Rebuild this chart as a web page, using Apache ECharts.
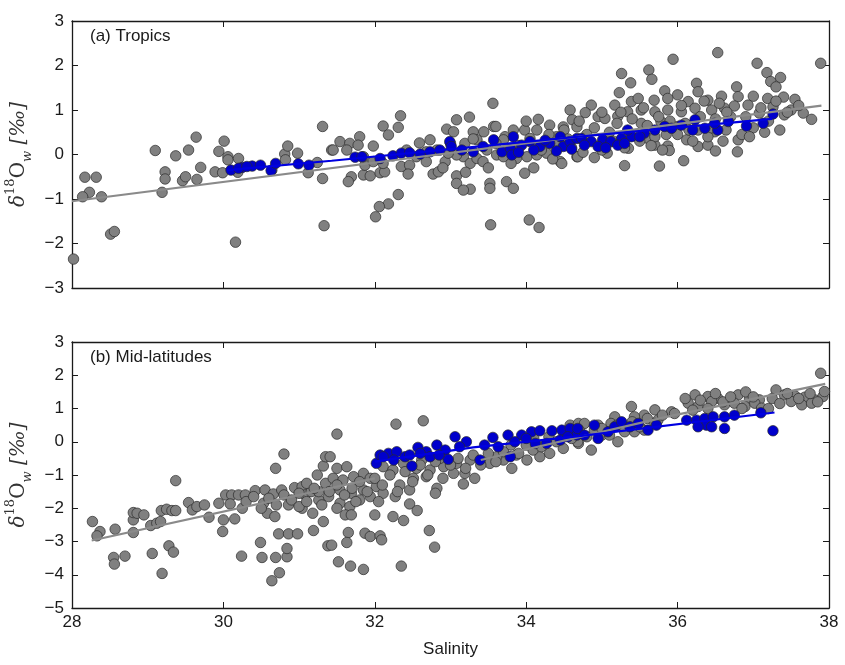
<!DOCTYPE html>
<html>
<head>
<meta charset="utf-8">
<script src="https://cdn.jsdelivr.net/npm/echarts@6/dist/echarts.min.js"></script>
<style>
  html, body { margin: 0; padding: 0; background: #fff; }
  #chart { width: 845px; height: 665px; }
</style>
</head>
<body>
<div id="chart"></div>
<script>
// Salinity axis shared by both panels
const salinityTicks = [28, 30, 32, 34, 36, 38];
const tropicsYTicks = [-3, -2, -1, 0, 1, 2, 3];
const midYTicks = [-5, -4, -3, -2, -1, 0, 1, 2, 3];

// (a) Tropics: all samples [salinity, d18O]
const tropicsAll = [
  [28.02,-2.35],[28.17,-0.51],[28.32,-0.51],[28.23,-0.85],[28.14,-0.95],[28.39,-0.95],[28.51,-1.79],[28.56,-1.73],
  [29.10,0.09],[29.37,-0.03],[29.54,0.10],[29.64,0.39],[29.23,-0.39],[29.23,-0.55],[29.19,-0.85],[29.46,-0.59],
  [29.50,-0.50],[29.65,-0.56],[29.70,-0.29],[29.94,0.07],[30.01,0.30],[29.89,-0.39],[29.99,-0.41],[30.06,-0.05],
  [30.06,-0.12],[30.20,-0.09],[30.19,-0.40],[30.16,-1.97],[30.81,0.01],[30.85,0.19],[30.98,0.03],[30.82,-0.12],
  [30.64,-0.35],[31.12,-0.41],[31.24,-0.18],[31.31,-0.54],[31.31,0.63],[31.33,-1.60],[31.43,0.10],
  [31.45,0.10],[31.54,0.29],[31.67,0.25],[31.80,0.40],[31.78,0.21],[31.63,0.10],[31.98,0.19],[32.11,0.64],
  [32.18,0.44],[32.31,0.61],[32.34,0.87],[31.69,-0.50],[31.65,-0.61],[31.85,-0.46],[31.94,-0.48],[32.07,-0.41],
  [32.13,-0.39],[31.87,-0.24],[32.31,-0.90],[32.18,-1.11],[32.06,-1.17],[32.01,-1.40],[32.35,-0.27],[32.46,-0.24],
  [32.44,-0.44],[32.59,0.26],[32.73,0.33],[32.77,-0.44],[32.84,-0.39],[32.68,-0.16],[32.95,0.57],[33.08,0.78],
  [33.25,0.84],[33.04,0.51],[32.93,-0.16],[33.08,-0.48],[33.08,-0.65],[33.26,-0.78],[33.17,-0.80],[33.30,0.51],
  [33.44,0.51],[33.57,0.63],[33.56,1.15],[33.60,0.63],[33.72,0.40],[33.83,0.55],[33.98,0.55],[34.14,0.55],
  [34.16,0.79],[34.31,0.66],[34.49,0.62],[34.58,1.00],[34.61,0.78],[34.67,0.62],[33.52,-0.65],[33.52,-0.76],
  [33.74,-0.61],[33.83,-0.76],[33.98,-0.42],[33.53,-1.58],[34.04,-1.47],[34.17,-1.64],[33.17,-0.05],[33.26,-0.20],
  [33.35,-0.09],[33.43,-0.16],[33.08,-0.01],[32.97,0.03],[33.48,0.10],[33.61,-0.01],[33.70,-0.05],[33.87,-0.09],
  [34.01,-0.05],[34.14,-0.01],[34.27,0.03],[34.45,-0.16],[34.47,-0.20],[34.67,-0.05],[32.55,-0.05],[32.42,0.10],
  [32.68,0.06],[32.82,0.10],[33.19,0.25],[33.35,0.33],[33.70,0.33],[34.05,0.36],[34.40,0.40],[31.85,-0.05],
  [31.98,-0.16],[32.11,-0.20],
  [36.53,2.29],[35.94,2.14],[37.05,2.05],[37.89,2.05],[35.26,1.82],[35.62,1.90],[35.66,1.69],[35.38,1.61],
  [37.18,1.84],[37.23,1.64],[37.36,1.73],[37.30,1.52],[36.25,1.60],[36.27,1.41],[36.78,1.52],[35.23,1.39],
  [35.83,1.43],[36.00,1.34],[34.86,1.11],[34.78,0.94],[35.17,1.11],[35.39,1.19],[35.48,1.26],[35.69,1.22],
  [35.87,1.26],[36.14,1.19],[36.40,1.22],[36.58,1.31],[36.80,1.30],[37.00,1.31],[37.19,1.26],[37.26,1.07],
  [37.40,1.29],[37.55,1.24],[37.41,0.89],[37.50,1.00],[37.66,0.93],[37.77,0.79],[34.95,0.85],[35.04,0.81],
  [35.21,0.86],[35.34,0.96],[35.52,1.00],[35.70,0.96],[35.87,1.00],[36.05,0.96],[36.23,1.04],[36.45,1.00],
  [36.62,1.04],[36.75,1.09],[36.93,1.11],[37.08,0.93],[35.52,0.70],[35.78,0.74],[36.00,0.63],[36.27,0.55],
  [36.49,0.51],[36.64,0.55],[34.68,-0.05],[34.90,-0.07],[35.07,0.03],[35.30,-0.25],[35.35,0.14],[35.76,-0.26],
  [35.87,0.19],[35.89,0.09],[36.08,-0.14],[36.12,0.33],[36.27,0.18],[36.40,0.21],[36.50,0.08],[36.80,0.33],
  [36.79,0.06],[35.70,0.21],[35.61,0.36],
  [34.20,0.10],[34.30,0.45],[34.40,0.20],[34.50,0.55],[34.60,0.15],[34.70,0.75],[34.80,0.45],[34.90,0.60],
  [35.00,0.10],[35.00,0.95],[35.10,0.50],[35.20,0.70],[35.30,0.15],[35.40,0.80],[35.50,0.30],[35.55,1.05],
  [35.60,0.65],[35.70,0.40],[35.75,0.85],[35.80,0.10],[35.90,0.75],[36.00,0.45],[36.05,1.10],[36.10,0.70],
  [36.20,0.30],[36.30,0.85],[36.35,1.20],[36.40,0.40],[36.50,0.80],[36.55,1.15],[36.60,0.30],[36.70,0.85],
  [36.85,0.45],[36.90,0.85],[37.00,0.60],[37.10,1.05],[37.20,0.75],[37.30,1.20],[37.35,0.55],[37.45,0.95],
  [37.60,1.10],[33.90,0.20],[33.80,-0.20],[33.60,0.25],[33.50,-0.30],[33.30,0.35],[33.20,-0.40],[33.00,0.25],
  [32.90,-0.30],[34.00,0.75],[34.10,-0.30],[34.35,-0.10],[34.55,0.35],[34.75,0.05],[35.15,0.30],[35.25,0.95],
  [35.45,0.45],[35.65,0.20],[35.85,0.45],[36.15,0.55],[36.45,0.60],[36.65,0.95],[36.95,0.40],[37.15,0.50]
];

// (a) Tropics: subset highlighted in blue
const tropicsSubset = [
  [30.10,-0.35],[30.25,-0.29],[30.38,-0.26],[30.49,-0.24],[30.63,-0.36],[30.69,-0.20],[30.99,-0.21],[31.13,-0.24],
  [30.20,-0.31],[30.31,-0.27],
  [31.74,-0.06],[31.83,-0.05],[32.24,-0.03],[32.35,0.03],[32.46,0.04],[32.60,0.01],[32.73,0.06],[32.86,0.10],
  [32.99,0.29],[33.01,0.18],[33.15,0.10],[33.30,0.06],[33.43,0.18],[33.57,0.33],[33.68,0.06],[33.79,0.14],
  [33.83,0.40],[33.81,-0.01],[33.94,0.21],[34.05,0.29],[34.18,0.18],[34.31,0.25],[34.45,0.40],[34.49,0.18],
  [34.58,0.29],[34.67,0.36],[32.07,-0.09],
  [34.73,0.36],[34.86,0.29],[35.01,0.33],[35.12,0.29],[35.26,0.36],[35.39,0.40],[35.34,0.55],[35.56,0.48],
  [35.70,0.55],[35.83,0.63],[35.92,0.59],[36.05,0.66],[36.20,0.55],[36.23,0.78],[36.36,0.59],[36.53,0.55],
  [36.49,0.70],[36.67,0.74],[36.91,0.64],[37.13,0.70],[37.26,0.91],[34.77,0.21],[34.95,0.18],[35.21,0.21],
  [35.50,0.40],[33.90,0.05],[34.10,0.10],[34.25,0.32],[34.40,0.08],[34.60,0.12],[35.05,0.15],[35.30,0.25]
];

// (a) Tropics: fitted lines
const tropicsAllFit = [[28.0,-1.05],[37.9,1.10]];
const tropicsSubsetFit = [[30.05,-0.35],[31.43,-0.14],[34.70,0.40],[37.25,0.80]];

// (b) Mid-latitudes: all samples [salinity, d18O]
const midAll = [
  [28.27,-2.40],[28.37,-2.70],[28.33,-2.83],[28.57,-2.63],[28.55,-3.48],[28.56,-3.68],[28.70,-3.44],[28.81,-2.73],
  [28.81,-2.35],[28.81,-2.13],[28.86,-2.15],[28.95,-2.20],[29.04,-2.52],[29.12,-2.45],[29.17,-2.40],[29.06,-3.36],
  [29.18,-2.07],[29.25,-2.03],[29.32,-2.07],[29.37,-2.07],[29.37,-1.17],[29.28,-3.13],[29.34,-3.32],[29.19,-3.96],
  [29.54,-1.83],[29.59,-2.05],[29.65,-1.95],[29.75,-1.90],[29.81,-2.27],[29.94,-1.85],[30.00,-2.35],[29.99,-2.70],
  [30.15,-2.32],[30.03,-1.60],[30.11,-1.60],[30.20,-1.60],[30.29,-1.60],[30.09,-1.87],[30.25,-2.00],[30.42,-1.47],
  [30.53,-1.85],[30.55,-1.45],[30.66,-1.57],[30.77,-1.45],[30.86,-1.90],[30.69,-0.80],[30.80,-0.37],[30.49,-3.03],
  [30.24,-3.44],[30.51,-3.48],[30.69,-3.48],[30.84,-3.46],[30.84,-3.21],[30.73,-2.77],[30.86,-2.77],[30.98,-2.77],
  [30.64,-4.18],[30.74,-3.94],[30.58,-2.15],[30.68,-2.25],[30.94,-1.38],[31.04,-1.35],[31.08,-1.60],[31.04,-2.00],
  [31.16,-1.50],[31.18,-2.15],[31.24,-1.00],[31.32,-0.73],[31.35,-0.45],[31.32,-2.40],[31.38,-3.13],[31.19,-2.67],
  [31.26,-1.75],[31.35,-1.25],[31.39,-1.65],[31.10,-1.25],[31.26,-1.50],
  [31.50,0.23],[32.28,0.53],[32.64,0.63],[31.41,-0.45],[31.50,-0.80],[31.63,-0.75],[31.45,-1.10],[31.58,-1.15],
  [31.72,-1.05],[31.85,-0.95],[31.94,-1.10],[31.54,-1.45],[31.69,-1.55],[31.85,-1.45],[32.02,-1.35],[31.54,-1.85],
  [31.67,-1.95],[31.80,-1.75],[31.94,-1.65],[31.61,-2.20],[31.69,-2.20],[32.00,-2.20],[32.11,-1.55],[32.27,-1.65],
  [32.24,-2.25],[32.38,-2.37],[32.46,-1.87],[32.56,-2.07],[31.65,-2.73],[31.63,-3.03],[31.87,-2.75],[31.94,-2.85],
  [32.07,-2.83],[32.09,-2.95],[31.43,-3.11],[31.52,-3.61],[31.68,-3.74],[31.85,-3.84],[32.35,-3.74],[32.72,-2.67],
  [32.79,-3.17],[32.11,-0.75],[32.24,-0.85],[32.38,-0.65],[32.55,-0.80],[32.73,-0.85],[32.91,-0.75],[33.04,-0.95],
  [33.17,-1.27],[33.19,-0.95],[33.32,-1.10],[32.51,-1.10],[32.68,-1.05],[32.33,-1.30],[32.46,-1.45],[32.82,-1.40],
  [32.80,-1.55],[32.62,-0.55],[32.86,-0.50],[33.08,-0.65],[33.26,-0.55],[33.52,-0.65],[33.70,-0.55],[33.81,-0.80],
  [34.01,-0.55],[34.18,-0.45],[34.31,-0.35],[34.49,-0.20],[34.69,-0.05],[33.61,-0.45],[33.87,-0.40],[34.09,-0.25],
  [34.58,0.50],[34.69,0.55],
  [37.89,2.06],[37.30,1.56],[37.41,1.41],[37.55,1.38],[37.68,1.34],[37.81,1.26],[37.92,1.36],[37.64,1.11],
  [37.77,1.16],[37.94,1.51],[37.50,1.21],[36.23,1.41],[36.40,1.36],[36.53,1.31],[36.80,1.41],[36.95,1.31],
  [37.08,1.26],[36.14,1.16],[36.27,1.06],[36.45,1.21],[36.62,1.11],[36.75,1.16],[36.89,1.06],[37.02,1.16],
  [37.11,1.01],[35.39,1.06],[35.70,0.96],[35.92,0.90],[35.96,0.85],[35.56,0.80],[35.43,0.75],[35.17,0.75],
  [34.95,0.50],[34.77,0.55],[35.12,0.55],[35.30,0.45],[35.56,0.35],[35.74,0.65],[35.21,0.00],[34.86,-0.25],
  [34.68,0.00],[35.00,0.20],[35.43,0.30],
  [30.30,-1.80],[30.40,-1.65],[30.50,-2.00],[30.60,-1.70],[30.70,-1.90],[30.80,-1.60],[30.90,-1.75],[31.00,-1.55],
  [31.00,-1.95],[31.10,-1.80],[31.20,-1.40],[31.30,-1.90],[31.40,-1.50],[31.50,-1.30],[31.50,-2.00],[31.60,-1.60],
  [31.70,-1.40],[31.75,-1.80],[31.80,-1.20],[31.90,-1.50],[32.00,-1.10],[32.05,-1.80],[32.10,-1.30],[32.20,-1.00],
  [32.30,-1.50],[32.40,-0.90],[32.50,-1.20],[32.60,-0.70],[32.70,-1.00],[32.80,-0.60],[32.90,-1.10],[33.00,-0.70],
  [33.10,-0.50],[33.20,-0.80],[33.30,-0.40],[33.40,-0.70],[33.50,-0.35],[33.60,-0.60],[33.70,-0.30],[33.80,-0.10],
  [33.90,-0.35],[34.00,-0.10],[34.10,0.10],[34.20,-0.15],[34.30,0.15],[34.40,0.00],[34.50,0.25],[34.60,0.10],
  [34.70,0.35],[34.80,0.15],[34.90,0.35],[35.00,0.40],[35.10,0.20],[35.20,0.50],[35.30,0.30],[35.40,0.60],
  [35.50,0.45],[35.60,0.70],[35.70,0.55],[35.80,0.80],[36.10,1.30],[36.20,0.95],[36.30,1.25],[36.40,1.00],
  [36.50,1.45],[36.60,1.20],[36.70,1.35],[36.85,1.00],[36.90,1.50],[37.00,1.35],[37.20,1.00],[37.25,1.30],
  [37.35,1.15],[37.45,1.45],[37.60,1.30],[37.75,1.45],[37.85,1.20]
];

// (b) Mid-latitudes: subset highlighted in blue
const midSubset = [
  [32.02,-0.65],[32.07,-0.40],[32.18,-0.35],[32.29,-0.30],[32.40,-0.45],[32.49,-0.73],[32.57,-0.17],[32.68,-0.30],
  [32.82,-0.10],[32.93,-0.25],[32.97,-0.53],[33.06,0.15],[33.21,0.00],[33.12,-0.15],[33.39,-0.55],[33.56,0.13],
  [33.76,0.20],[33.63,-0.15],[33.79,-0.45],[33.94,0.20],[34.07,0.30],[34.18,0.33],[34.12,-0.05],[34.34,0.33],
  [34.47,0.35],[34.58,0.40],[34.67,0.20],[34.27,-0.05],[34.45,0.05],[32.11,-0.45],[32.73,-0.45],[32.46,-0.40],
  [32.25,-0.55],[32.60,-0.35],[32.85,-0.40],[33.45,-0.10],[33.85,0.00],[34.00,0.10],[34.55,0.15],
  [34.68,0.40],[34.77,0.20],[34.90,0.50],[34.95,0.10],[35.08,0.30],[35.17,0.45],[35.26,0.60],[35.37,0.45],
  [35.48,0.55],[35.61,0.35],[35.72,0.50],[36.12,0.65],[36.25,0.65],[36.36,0.70],[36.47,0.75],[36.38,0.50],
  [36.45,0.45],[36.27,0.45],[36.62,0.40],[36.62,0.75],[36.75,0.80],[37.10,0.87],[37.26,0.33]
];

// (b) Mid-latitudes: fitted lines (null breaks the gray fit into pieces)
const midAllFit = [[28.26,-2.97],[32.0,-1.10],null,[33.40,-0.55],[35.85,0.75],[37.95,1.74]];
const midSubsetFit = [[32.0,-0.60],[33.30,-0.17],[34.70,0.17],[37.28,0.88]];

const FONT = '"Liberation Sans", Arial, sans-serif';
const INK = '#1a1a1a';
const minus = v => String(v).replace('-', '\u2212');

// δ18Ow [‰] written with rich-text super/subscripts
const yName = '{d|δ}{s|18}{o|O}{w|w}{n| [‰]}';
const SERIF = '"DejaVu Serif", serif';
const nameRich = {
  d: { fontFamily: SERIF, fontStyle: 'italic', fontSize: 20, color: '#333', lineHeight: 30 },
  s: { fontFamily: SERIF, fontSize: 13, color: '#333', lineHeight: 14, verticalAlign: 'top' },
  o: { fontFamily: SERIF, fontSize: 20, color: '#333', lineHeight: 30 },
  w: { fontFamily: SERIF, fontStyle: 'italic', fontSize: 13, color: '#333', lineHeight: 14, verticalAlign: 'bottom' },
  n: { fontFamily: SERIF, fontStyle: 'italic', fontSize: 20, color: '#333', lineHeight: 30 }
};

function xAxes(gridIndex, showLabels) {
  const base = {
    type: 'value', gridIndex, min: 28, max: 38, interval: 2,
    splitLine: { show: false },
    axisLine: { show: true, onZero: false, lineStyle: { color: INK, width: 1.3 } },
    axisTick: { show: true, inside: true, length: 6, lineStyle: { color: INK, width: 1 } }
  };
  return [
    Object.assign({}, base, {
      position: 'bottom',
      axisLabel: { show: showLabels, color: INK, fontFamily: FONT, fontSize: 17, margin: 6,
        formatter: v => salinityTicks.includes(v) ? String(v) : '' },
      name: showLabels ? 'Salinity' : '', nameLocation: 'middle', nameGap: 33,
      nameTextStyle: { color: INK, fontFamily: FONT, fontSize: 17 }
    }),
    Object.assign({}, base, { position: 'top', axisLabel: { show: false } })
  ];
}

function yAxes(gridIndex, min, max, ticks) {
  const base = {
    type: 'value', gridIndex, min, max, interval: 1,
    splitLine: { show: false },
    axisLine: { show: true, onZero: false, lineStyle: { color: INK, width: 1.3 } },
    axisTick: { show: true, inside: true, length: 6, lineStyle: { color: INK, width: 1 } }
  };
  return [
    Object.assign({}, base, {
      position: 'left',
      axisLabel: { color: INK, fontFamily: FONT, fontSize: 17, margin: 8,
        formatter: v => ticks.includes(v) ? minus(v) : '' },
      name: yName, nameLocation: 'middle', nameRotate: 90, nameGap: 32,
      nameTextStyle: { rich: nameRich }
    }),
    Object.assign({}, base, { position: 'right', axisLabel: { show: false } })
  ];
}

function scatter(data, xi, yi, color, z) {
  return {
    type: 'scatter', xAxisIndex: xi, yAxisIndex: yi, data, symbolSize: 10.5, z,
    itemStyle: { color, borderColor: '#2a2a2a', borderWidth: 0.7, opacity: 1 },
    silent: true, animation: false
  };
}
function fit(data, xi, yi, color, z) {
  return {
    type: 'line', xAxisIndex: xi, yAxisIndex: yi, data, showSymbol: false, z,
    connectNulls: false,
    lineStyle: { color, width: 2.2 }, silent: true, animation: false
  };
}

const chart = echarts.init(document.getElementById('chart'), null, { renderer: 'canvas' });
chart.setOption({
  backgroundColor: '#ffffff',
  animation: false,
  title: [
    { text: '(a) Tropics', left: 85, top: 23, textStyle: { fontFamily: FONT, fontSize: 17, fontWeight: 'normal', color: INK } },
    { text: '(b) Mid-latitudes', left: 85, top: 344, textStyle: { fontFamily: FONT, fontSize: 17, fontWeight: 'normal', color: INK } }
  ],
  grid: [
    { left: 72, top: 21, width: 757, height: 267, outerBoundsMode: 'none', containLabel: false },
    { left: 72, top: 342, width: 757, height: 266, outerBoundsMode: 'none', containLabel: false }
  ],
  xAxis: [...xAxes(0, false), ...xAxes(1, true)],
  yAxis: [...yAxes(0, -3, 3, tropicsYTicks), ...yAxes(1, -5, 3, midYTicks)],
  series: [
    scatter(tropicsAll, 0, 0, '#808080', 2),
    scatter(tropicsSubset, 0, 0, '#0000cc', 3),
    fit(tropicsAllFit, 0, 0, '#8a8a8a', 4),
    fit(tropicsSubsetFit, 0, 0, '#0000e0', 5),
    scatter(midAll, 2, 2, '#808080', 2),
    scatter(midSubset, 2, 2, '#0000cc', 3),
    fit(midAllFit, 2, 2, '#8a8a8a', 4),
    fit(midSubsetFit, 2, 2, '#0000e0', 5)
  ]
});
</script>
</body>
</html>
